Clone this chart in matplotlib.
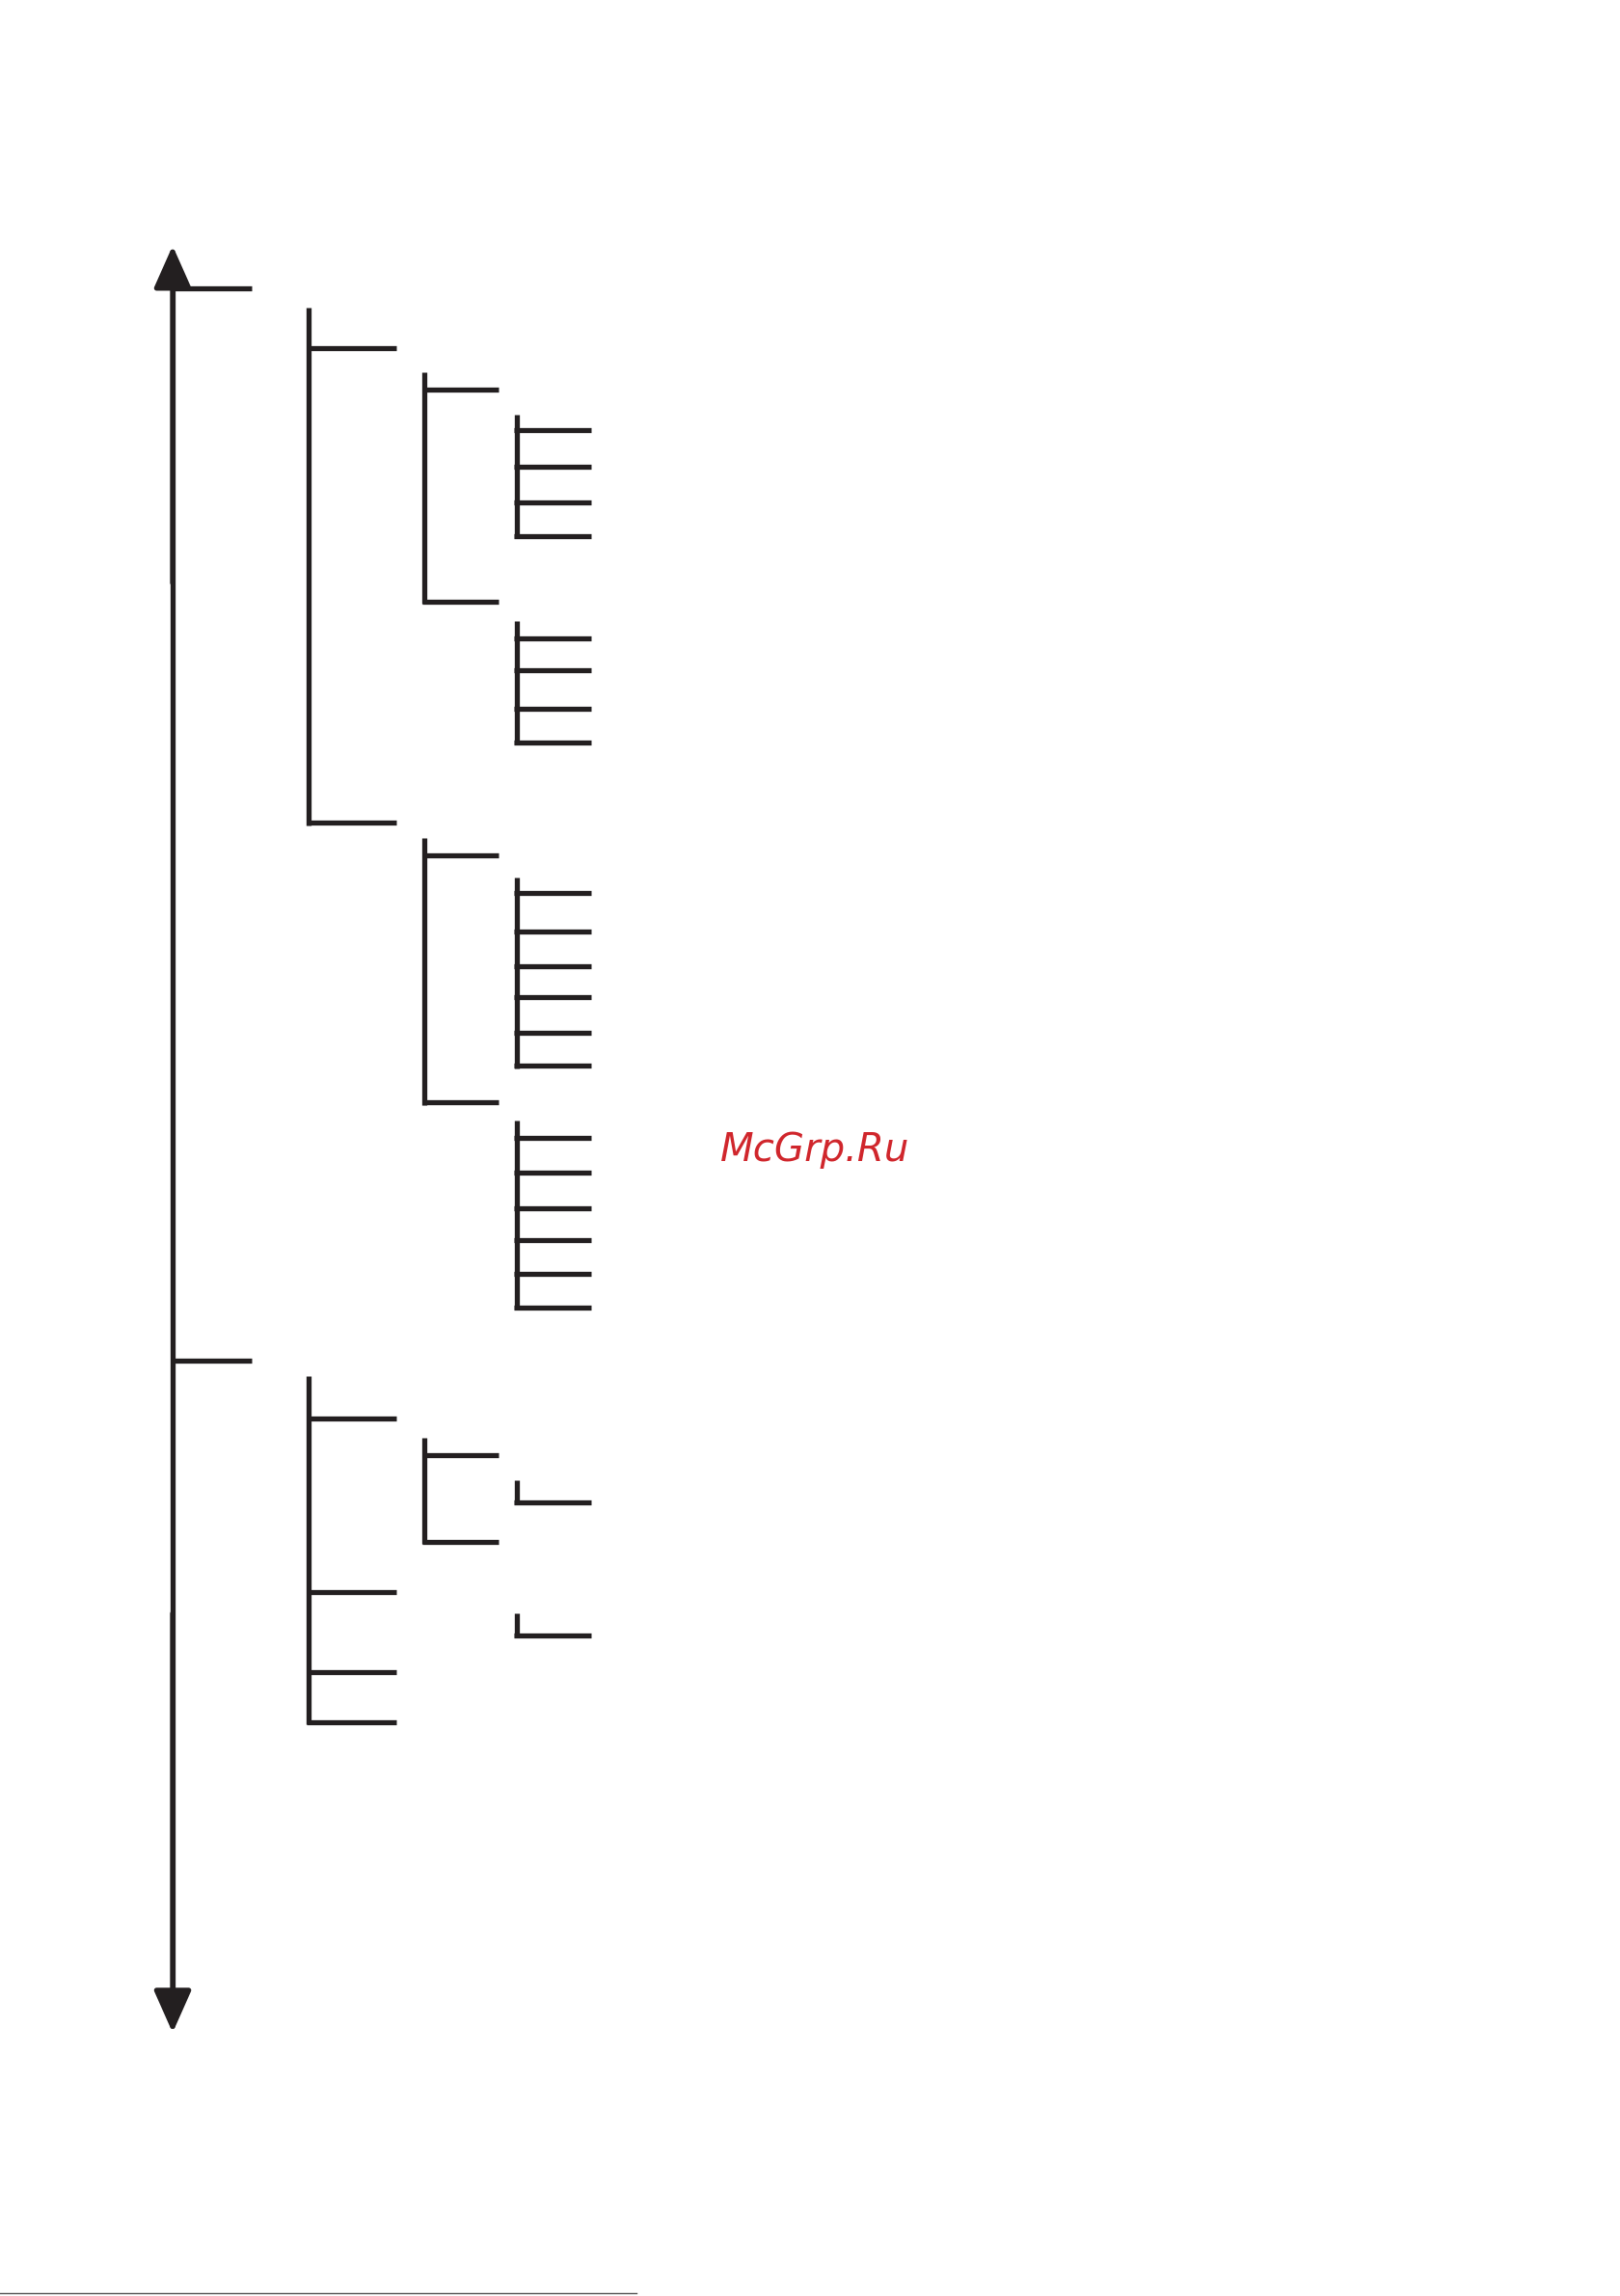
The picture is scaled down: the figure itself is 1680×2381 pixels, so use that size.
import matplotlib
matplotlib.use("Agg")
import matplotlib.pyplot as plt

# brackets: (x_vertical, y_top, y_bottom, tick_end_x, tick_ys)
bracket_x = [211, 290, 353, 353, 290, 353, 353, 211, 290, 353, 353]
bracket_top = [210, 254, 283, 424, 572, 599, 765, 940, 982, 1011, 1102]
bracket_bottom = [562, 411, 366, 507, 753, 728, 893, 1176, 1053, 1026, 1117]
bracket_end = [271, 341, 404, 404, 341, 404, 404, 271, 341, 404, 404]
bracket_ticks = [
    [238, 562],
    [266, 411],
    [294, 319, 343, 366],
    [436, 458, 484, 507],
    [584, 753],
    [610, 636, 660, 681, 705, 728],
    [777, 801, 825, 847, 870, 893],
    [969, 1087, 1142, 1176],
    [994, 1053],
    [1026],
    [1117],
]
main_ticks = [197, 929]

fig = plt.figure(figsize=(16.81, 23.81), dpi=100)
ax = fig.add_axes([0, 0, 1, 1])
ax.set_xlim(0, 1108)
ax.set_ylim(1568, 0)
ax.axis("off")
c = "#231f20"
lw = 3.8

ax.plot([118, 118], [180, 1378], color=c, lw=lw, solid_capstyle="butt")
ax.annotate("", xy=(118, 166), xytext=(118, 400),
            arrowprops=dict(arrowstyle="-|>,head_length=2.7,head_width=1.2", color=c, lw=lw))
ax.annotate("", xy=(118, 1390), xytext=(118, 1100),
            arrowprops=dict(arrowstyle="-|>,head_length=2.7,head_width=1.2", color=c, lw=lw))
for y in main_ticks:
    ax.plot([118, 172], [y, y], color=c, lw=lw, solid_capstyle="butt")

for x, t, b, e, ts in zip(bracket_x, bracket_top, bracket_bottom, bracket_end, bracket_ticks):
    ax.plot([x, x], [t, b + 1.5], color=c, lw=lw, solid_capstyle="butt")
    for y in ts:
        ax.plot([x - 1.5, e], [y, y], color=c, lw=lw, solid_capstyle="butt")

ax.text(557, 785, "McGrp.Ru", color="#d0262c", fontsize=29,
        style="italic", ha="center", va="center", family="DejaVu Sans")
ax.plot([0, 435], [1566, 1566], color="#555555", lw=1)

fig.savefig("out.png", dpi=100)
